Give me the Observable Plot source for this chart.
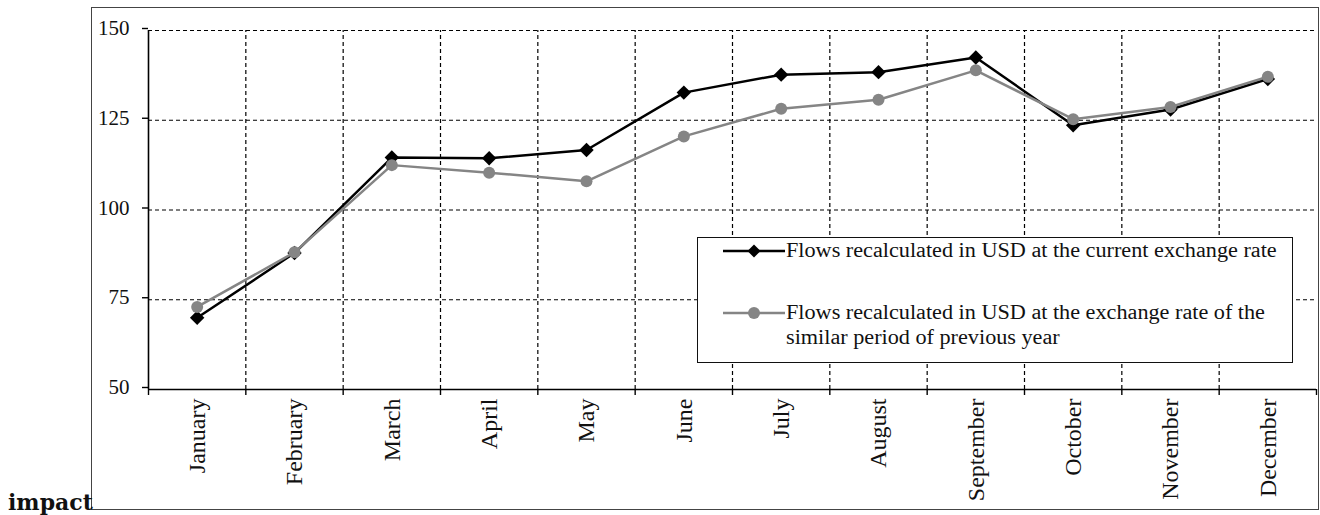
<!DOCTYPE html>
<html>
<head>
<meta charset="utf-8">
<script src="https://cdn.jsdelivr.net/npm/d3@7"></script>
<script src="https://cdn.jsdelivr.net/npm/@observablehq/plot@0.6"></script>
<style>
  html, body { margin: 0; padding: 0; background: #fff; width: 1320px; height: 515px; overflow: hidden; }
  #frame { position: absolute; left: 92px; top: 8px; width: 1226px; height: 501px; }
  #border { position: absolute; left: 91px; top: 7px; width: 1226px; height: 501px; border: 1.5px solid #444; pointer-events: none; }
  #legend { position: absolute; left: 697px; top: 237px; width: 594px; height: 124px; border: 1.5px solid #111; background: #fff;
            font-family: "Liberation Serif", serif; font-size: 20px; color: #111; }
  .sw { position: absolute; left: 25px; width: 62px; height: 16px; }
  .lt { position: absolute; left: 88px; line-height: 25px; white-space: nowrap; transform: scaleX(1.11); transform-origin: 0 0; }
  #impact { position: absolute; left: 8px; top: 489px; font-family: "DejaVu Serif", serif; font-weight: bold; font-size: 22px; color: #111; }
</style>
</head>
<body>
<div id="frame"></div>
<div id="border"></div>
<div id="legend"></div>
<div id="impact">impact</div>
<script>
const months = ["January","February","March","April","May","June","July","August","September","October","November","December"];
const currentRate = [70, 88, 114.6, 114.4, 116.7, 132.7, 137.7, 138.4, 142.5, 123.6, 128, 136.5];
const prevYearRate = [73, 88.2, 112.5, 110.4, 108, 120.5, 128.2, 130.7, 138.9, 125.3, 128.7, 137.1];
const yTicks = [50, 75, 100, 125, 150];
const gridY = [75, 100, 125, 150];
const seriesNames = ["Flows recalculated in USD at the current exchange rate",
                     "Flows recalculated in USD at the exchange rate of the similar period of previous year"];

const data = months.map((m, i) => ({pos: i + 0.5, month: m, current: currentRate[i], prev: prevYearRate[i]}));
const boundaries = d3.range(0, months.length + 1);

const chart = Plot.plot({
  width: 1226, height: 501,
  marginLeft: 56, marginRight: 2, marginTop: 22, marginBottom: 120,
  x: {type: "linear", domain: [0, months.length], axis: null},
  y: {domain: [50, 150], axis: null},
  style: {fontFamily: "Liberation Serif, serif", fontSize: "20px", color: "#111", background: "transparent", overflow: "visible"},
  marks: [
    Plot.ruleY(gridY, {stroke: "#000", strokeWidth: 1.2, strokeDasharray: "4,3"}),
    Plot.ruleX(boundaries.slice(1, -1), {y1: 50, y2: 150, stroke: "#000", strokeWidth: 1.2, strokeDasharray: "4,3"}),
    Plot.ruleX([0], {y1: 50, y2: 150, stroke: "#000", strokeWidth: 1.6}),
    Plot.ruleY([50], {stroke: "#000", strokeWidth: 1.6}),
    Plot.axisY(yTicks, {tickSize: 6, tickPadding: 13, fontSize: 21, strokeWidth: 1.4, stroke: "#000", dy: -2, label: null}),
    Plot.axisX(boundaries, {tickSize: 6, tickFormat: () => "", strokeWidth: 1.4, stroke: "#000", label: null}),
    Plot.axisX(data.map(d => d.pos), {tickSize: 0, tickPadding: 9, tickRotate: -90, fontSize: 24, label: null,
      tickFormat: d => months[Math.floor(d)]}),
    Plot.line(data, {x: "pos", y: "current", stroke: "#000", strokeWidth: 2.5}),
    Plot.dot(data, {x: "pos", y: "current", symbol: "diamond2", r: 6.5, fill: "#000", stroke: "none"}),
    Plot.line(data, {x: "pos", y: "prev", stroke: "#858585", strokeWidth: 2.5}),
    Plot.dot(data, {x: "pos", y: "prev", r: 6, fill: "#858585", stroke: "none"})
  ]
});
document.getElementById("frame").appendChild(chart);

// legend
const legend = document.getElementById("legend");
function swatch(top, color, marker) {
  const ns = "http://www.w3.org/2000/svg";
  const svg = document.createElementNS(ns, "svg");
  svg.setAttribute("class", "sw");
  svg.setAttribute("width", 62); svg.setAttribute("height", 16);
  svg.style.top = top + "px";
  const line = document.createElementNS(ns, "line");
  line.setAttribute("x1", 0); line.setAttribute("x2", 62); line.setAttribute("y1", 8); line.setAttribute("y2", 8);
  line.setAttribute("stroke", color); line.setAttribute("stroke-width", 2.5);
  svg.appendChild(line);
  if (marker === "diamond") {
    const p = document.createElementNS(ns, "path");
    p.setAttribute("d", "M31,1.5L37.5,8L31,14.5L24.5,8Z"); p.setAttribute("fill", color);
    svg.appendChild(p);
  } else {
    const c = document.createElementNS(ns, "circle");
    c.setAttribute("cx", 31); c.setAttribute("cy", 8); c.setAttribute("r", 6); c.setAttribute("fill", color);
    svg.appendChild(c);
  }
  legend.appendChild(svg);
}
swatch(5, "#000", "diamond");
swatch(67, "#858585", "circle");
const t1 = document.createElement("div"); t1.className = "lt"; t1.style.top = "0px"; t1.textContent = seriesNames[0];
legend.appendChild(t1);
const t2 = document.createElement("div"); t2.className = "lt"; t2.style.top = "62px";
t2.innerHTML = "Flows recalculated in USD at the exchange rate of the<br>similar period of previous year";
legend.appendChild(t2);
</script>
</body>
</html>
